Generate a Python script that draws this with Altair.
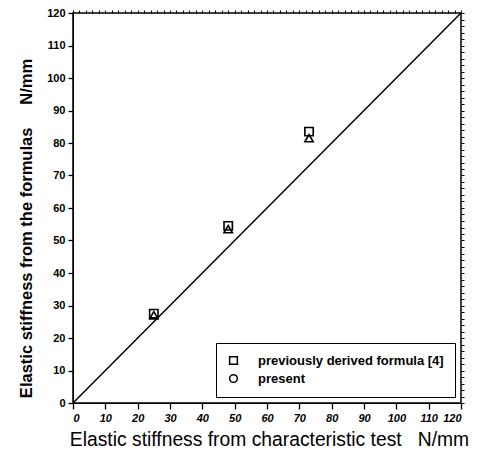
import altair as alt
import pandas as pd

# data
test_x = [25, 48, 73]
prev_y = [27.5, 54.5, 83.5]
present_y = [27.0, 53.5, 81.5]
series = ["previously derived formula [4]", "present"]
diag = [0, 120]

prev_df = pd.DataFrame({"x": test_x, "y": prev_y, "s": series[0]})
pres_df = pd.DataFrame({"x": test_x, "y": present_y, "s": series[1]})
diag_df = pd.DataFrame({"x": diag, "y": diag})

major = list(range(0, 121, 10))
minor = list(range(0, 121, 2))

xs = alt.Scale(domain=[0, 120], nice=False)
ys = alt.Scale(domain=[0, 120], nice=False)

NB = "\u00a0"
xtitle = "Elastic stiffness from characteristic test" + NB * 3 + "N/mm"
ytitle = "Elastic stiffness from the formulas" + NB * 5 + "N/mm"

x_major = alt.X("x:Q", scale=xs, title=xtitle,
                axis=alt.Axis(values=major, tickSize=6, grid=False, domainColor="black",
                              tickColor="black", tickWidth=1.3, labelFont="Liberation Sans",
                              labelFontWeight="bold", labelFontStyle="italic", labelFontSize=11,
                              labelColor="black", titleFont="Liberation Sans", titleFontSize=19.3,
                              titleFontWeight="normal", titleColor="black", titlePadding=7,
                              labelPadding=3, format="d", titleX=196))
y_major = alt.Y("y:Q", scale=ys, title=ytitle,
                axis=alt.Axis(values=major, tickSize=5, grid=False, domainColor="black",
                              tickColor="black", tickWidth=1.3, labelFont="Liberation Sans",
                              labelFontWeight="bold", labelFontSize=11, labelColor="black",
                              titleFont="Liberation Sans", titleFontSize=16.5, titleFontWeight="bold",
                              titleColor="black", titlePadding=12, labelPadding=3, format="d",
                              titleY=215))

x_minor = alt.X("x:Q", scale=xs, title=None,
                axis=alt.Axis(values=minor, tickSize=3, labels=False, grid=False,
                              domain=False, tickColor="black", tickWidth=1))
y_minor = alt.Y("y:Q", scale=ys, title=None,
                axis=alt.Axis(values=minor, tickSize=3, labels=False, grid=False,
                              domain=False, tickColor="black", tickWidth=1))

line = alt.Chart(diag_df).mark_line(color="black", strokeWidth=1.5, clip=True).encode(x=x_major, y=y_major)
ticks_minor = alt.Chart(diag_df).mark_point(opacity=0).encode(x=x_minor, y=y_minor)

prev_pts = alt.Chart(prev_df).mark_point(filled=False, color="black", strokeWidth=1.6, size=70, opacity=1).encode(
    x=alt.X("x:Q", scale=xs, axis=None),
    y=alt.Y("y:Q", scale=ys, axis=None),
    shape=alt.Shape("s:N", scale=alt.Scale(domain=series, range=["square", "circle"]),
                    legend=alt.Legend(title=None, orient="bottom-right", offset=6,
                                      strokeColor="black", padding=11, symbolStrokeColor="black",
                                      symbolStrokeWidth=1.5, symbolSize=60, labelFont="Liberation Sans",
                                      labelFontWeight="bold", labelFontSize=13, labelColor="black",
                                      rowPadding=3, labelOffset=18, fillColor="white",
                                      labelLimit=300)),
)
pres_pts = alt.Chart(pres_df).mark_point(filled=False, color="black", strokeWidth=1.6, size=70,
                                         shape="triangle-up", opacity=1).encode(
    x=alt.X("x:Q", scale=xs, axis=None),
    y=alt.Y("y:Q", scale=ys, axis=None),
)

chart = alt.layer(line, ticks_minor, prev_pts, pres_pts).resolve_axis(
    x="independent", y="independent"
).properties(
    width=388, height=390,
    autosize=alt.AutoSizeParams(type="none"),
    padding={"left": 65, "top": 5, "right": 13, "bottom": 50},
    background="white",
).configure_view(stroke="black", strokeWidth=1.5)

chart.save("out.html", embed_options={"renderer": "svg", "actions": False})
